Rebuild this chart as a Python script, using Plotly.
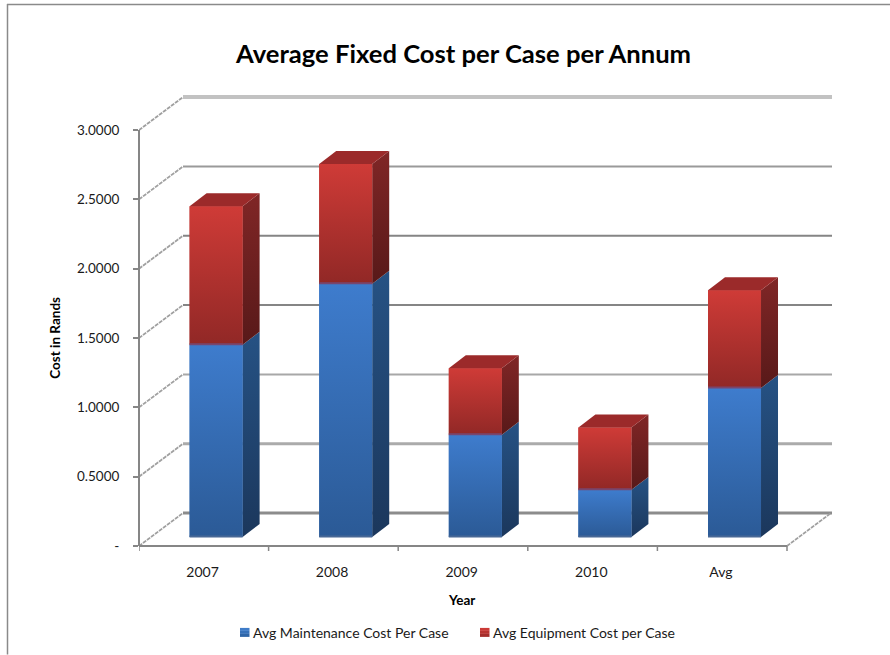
import plotly.graph_objects as go

categories = ["2007", "2008", "2009", "2010", "Avg"]
maintenance = [1.387, 1.826, 0.737, 0.34, 1.074]
equipment = [0.999, 0.864, 0.481, 0.45, 0.706]
y_ticks = [0, 0.5, 1, 1.5, 2, 2.5, 3]
y_labels = ["-", "0.5000", "1.0000", "1.5000", "2.0000", "2.5000", "3.0000"]
series_names = ["Avg Maintenance Cost Per Case", "Avg Equipment Cost per Case"]

W, H = 890, 655
L, R, T, B = 139, 832, 97, 546.5
PX_X, PX_Y = 129.6, 138.8
XMAX, YMAX = (R - L) / PX_X, (B - T) / PX_Y
WALL_X, WALL_Y = 44 / PX_X, 33 / PX_Y
BAR_W = 53 / PX_X
BAR_DX, BAR_DY = 17 / PX_X, 13 / PX_Y
BAR_SHIFT, FLOOR = 0.095, 9 / PX_Y
FONT = "Lato"
AXIS = "#868686"

fig = go.Figure()
centers = [i + 0.5 + BAR_SHIFT for i in range(len(categories))]


def face(xs, ys, c0, c1, lo, hi):
    fig.add_trace(go.Scatter(
        x=xs, y=ys, mode="lines", fill="toself", line=dict(width=0),
        fillcolor=c1, showlegend=False, hoverinfo="skip",
        fillgradient=dict(type="vertical", start=lo, stop=hi,
                          colorscale=[[0, c0], [1, c1]]),
    ))


series = [
    (series_names[0], maintenance, [0] * 5, "#3570ba",
     ("rgb(43,90,150)", "rgb(62,124,205)"), ("rgb(27,55,92)", "rgb(38,82,132)"), "rgb(72,104,150)"),
    (series_names[1], equipment, maintenance, "#bb3431",
     ("rgb(145,40,38)", "rgb(207,59,55)"), ("rgb(88,25,25)", "rgb(128,38,38)"), "rgb(120,70,110)"),
]

for name, vals, bases, solid, front, side, strip in series:
    fig.add_trace(go.Bar(
        x=centers, y=vals, base=[b + FLOOR for b in bases], width=BAR_W,
        name=name, marker=dict(color=solid, line=dict(width=0)), showlegend=False,
    ))

for name, vals, bases, solid, front, side, strip in series:
    for c, v, b in zip(centers, vals, bases):
        x0, x1 = c - BAR_W / 2, c + BAR_W / 2
        y0, y1 = b + FLOOR, b + v + FLOOR
        face([x1, x1 + BAR_DX, x1 + BAR_DX, x1, x1],
             [y0, y0 + BAR_DY, y1 + BAR_DY, y1, y0], side[0], side[1], y0, y1 + BAR_DY)
        face([x0, x1, x1, x0, x0], [y0, y0, y1, y1, y0], front[0], front[1], y0, y1)
        fig.add_trace(go.Scatter(
            x=[x0, x1], y=[y0 + 0.5 / PX_Y] * 2, mode="lines",
            line=dict(color=strip, width=2), showlegend=False, hoverinfo="skip"))

for c, m, e in zip(centers, maintenance, equipment):
    x0, x1 = c - BAR_W / 2, c + BAR_W / 2
    top = m + e + FLOOR
    fig.add_trace(go.Scatter(
        x=[x0, x1, x1 + BAR_DX, x0 + BAR_DX, x0],
        y=[top, top, top + BAR_DY, top + BAR_DY, top],
        mode="lines", fill="toself", line=dict(width=0),
        fillcolor="rgb(155,42,42)", showlegend=False, hoverinfo="skip"))

px = lambda x: (x - L) / (R - L)
py = lambda y: (B - y) / (B - T)

DIAG = dict(color="#a0a0a0", width=1.8, dash="4px,1px")
shapes = []
grid_styles = [(3, "#8c8c8c"), (3, "#ababab"), (2, "#a8a8a8"), (2, "#858585"),
               (2, "#858585"), (2, "#9a9a9a"), (4, "#c2c2c2")]
for v, (w, col) in zip(y_ticks, grid_styles):
    shapes.append(dict(type="line", layer="below", xref="x", yref="paper",
                       x0=WALL_X, x1=XMAX, y0=(v + WALL_Y) / YMAX, y1=(v + WALL_Y) / YMAX,
                       line=dict(color=col, width=w)))
    shapes.append(dict(type="line", layer="below", xref="x", yref="paper",
                       x0=0, x1=WALL_X, y0=v / YMAX, y1=(v + WALL_Y) / YMAX, line=DIAG))
shapes.append(dict(type="line", layer="below", xref="x", yref="paper",
                   x0=len(categories), x1=len(categories) + WALL_X, y0=0, y1=WALL_Y / YMAX,
                   line=DIAG))
shapes.append(dict(type="line", layer="below", xref="paper", yref="y",
                   x0=0, x1=0, y0=0, y1=y_ticks[-1], line=dict(color=AXIS, width=2)))
shapes.append(dict(type="line", layer="below", xref="x", yref="paper",
                   x0=0, x1=len(categories), y0=0, y1=0, line=dict(color=AXIS, width=2)))
for i in range(len(categories) + 1):
    shapes.append(dict(type="line", layer="below", xref="x", yref="paper",
                       x0=i, x1=i, y0=0, y1=-5 / (B - T), line=dict(color=AXIS, width=1.5)))

shapes.append(dict(type="line", xref="paper", yref="paper", layer="below",
                   x0=px(7), x1=px(890), y0=py(4.5), y1=py(4.5), line=dict(color="#8a8a8a", width=1.5)))
shapes.append(dict(type="line", xref="paper", yref="paper", layer="below",
                   x0=px(7.5), x1=px(7.5), y0=py(4), y1=py(655), line=dict(color="#8a8a8a", width=1.5)))


def note(text, x, y, size, **kw):
    return dict(text=text, xref="paper", yref="paper", x=px(x), y=py(y), showarrow=False,
                xanchor=kw.pop("xanchor", "center"), yanchor="middle",
                font=dict(family=FONT, size=size, color=kw.pop("color", "black")), **kw)


annotations = [
    note("<b>Average Fixed Cost per Case per Annum</b>", 463, 53, 25.6),
    note("<b>Year</b>", 461, 601, 13.5),
    note("<b>Cost in Rands</b>", 55, 338, 13.5, textangle=-90),
]

swatches = [(240, ["#3f7cc8", "#3671b9", "#2f66a8"]), (480, ["#cb3a37", "#b83431", "#a52e2c"])]
label_x = [250.5, 490.5]
for (sx, bands), lx, name in zip(swatches, label_x, series_names):
    for k, col in enumerate(bands):
        shapes.append(dict(type="rect", xref="paper", yref="paper", layer="below",
                           x0=px(sx), x1=px(sx + 9.5), y0=py(628.5 + 3 * k), y1=py(631.5 + 3 * k),
                           line=dict(width=0), fillcolor=col))
    annotations.append(note(name, lx, 633, 14, xanchor="left", color="#1a1a1a"))

fig.update_layout(
    width=W, height=H, autosize=False, showlegend=False,
    margin=dict(l=L, r=W - R, t=T, b=H - B, pad=0, autoexpand=False),
    paper_bgcolor="white", plot_bgcolor="rgba(0,0,0,0)",
    barmode="overlay", shapes=shapes, annotations=annotations,
    font=dict(family=FONT, size=14, color="#1a1a1a"),
    xaxis=dict(range=[0, XMAX], tickmode="array", tickvals=[i + 0.49 for i in range(5)],
               ticktext=categories, ticks="", showgrid=False, zeroline=False, showline=False,
               ticklabelstandoff=16, tickfont=dict(family=FONT, size=14)),
    yaxis=dict(range=[0, YMAX], tickmode="array", tickvals=y_ticks, ticktext=y_labels,
               ticks="outside", ticklen=5, tickwidth=1.5, tickcolor=AXIS, showgrid=False,
               zeroline=False, showline=False, ticklabelstandoff=11,
               tickfont=dict(family=FONT, size=13.5)),
)

fig.write_html("out.html", post_script="document.body.style.margin='0';",
               config={"displayModeBar": False})
